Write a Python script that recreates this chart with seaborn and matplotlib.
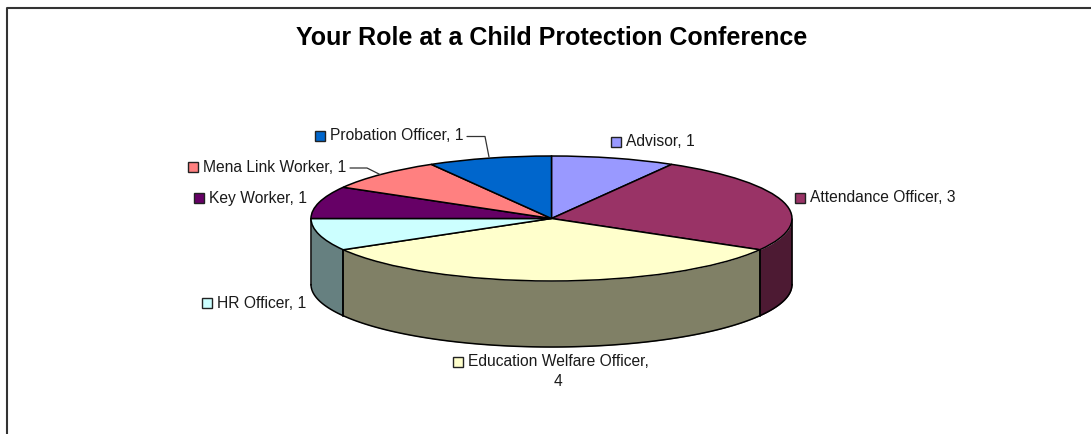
import numpy as np
import matplotlib
matplotlib.use("Agg")
import matplotlib.pyplot as plt
from matplotlib.patches import Wedge
from matplotlib.transforms import Affine2D
import seaborn as sns

roles = ["Advisor", "Attendance Officer", "Education Welfare Officer", "HR Officer",
         "Key Worker", "Mena Link Worker", "Probation Officer"]
counts = [1, 3, 4, 1, 1, 1, 1]
hex_colors = ["#9999FF", "#993366", "#FFFFCC", "#CCFFFF", "#660066", "#FF8080", "#0066CC"]
title_text = "Your Role at a Child Protection Conference"

sns.set_theme(style="white")
plt.rcParams["font.family"] = ["Liberation Sans", "DejaVu Sans"]
palette = sns.color_palette(hex_colors)
W, H = 1091, 434
fig = plt.figure(figsize=(W / 100, H / 100), dpi=100)
ax = fig.add_axes([0, 0, 1, 1])
CX, CY, RX, RY, DEPTH = 551.5, 218.5, 240.5, 62.5, 66
EDGE = "#000000"
INK = "#1a1a1a"
LEAD = "#333333"
FS = 11.25

# frame: only the top and left edges fall inside the picture
ax.plot([6.5, 6.5, W], [H, 7.5, 7.5], color="#333333", lw=1.5, clip_on=False)

# side wall, front half only
fractions = np.array(counts) / sum(counts)
ends = np.cumsum(fractions) * 2 * np.pi
starts = ends - fractions * 2 * np.pi
for s, e, c in zip(starts, ends, palette):
    lo, hi = max(s, np.pi / 2), min(e, 3 * np.pi / 2)
    if lo >= hi:
        continue
    th = np.linspace(lo, hi, 120)
    x = CX + RX * np.sin(th)
    top = CY - RY * np.cos(th)
    dark = tuple(v * 0.5 for v in c)
    ax.fill_between(x, top, top + DEPTH, color=dark, lw=0, zorder=2)
    ax.plot(x, top + DEPTH, color=EDGE, lw=1.1, zorder=3)
    for t in (lo, hi):
        px = CX + RX * np.sin(t)
        py = CY - RY * np.cos(t)
        ax.plot([px, px], [py, py + DEPTH], color=EDGE, lw=1.1, zorder=3)

# top face: the library's pie, squashed into an ellipse (y axis runs downward)
ax.pie(counts, colors=palette, startangle=90, counterclock=False, center=(CX, CY),
       radius=1, frame=True, wedgeprops=dict(edgecolor=EDGE, linewidth=1.1, zorder=4))
for w in ax.patches:
    if isinstance(w, Wedge):
        w.set_transform(Affine2D().translate(-CX, -CY).scale(RX, -RY).translate(CX, CY) + ax.transData)
ax.set_xlim(0, W)
ax.set_ylim(H, 0)
ax.set_aspect("auto")
ax.set_xticks([])
ax.set_yticks([])
sns.despine(ax=ax, left=True, bottom=True, top=True, right=True)

ax.text(552, 38, title_text, ha="center", va="center", fontsize=18, fontweight="bold", color="black")

# data labels: swatch left x, text left x, centre y, role index
label_spots = [
    (611, 625.5, 142, 0), (795, 810.5, 198, 1), (452.5, 468, 362, 2),
    (202, 217, 303, 3), (194, 209, 198, 4), (187.5, 203, 167, 5), (315, 330, 136, 6),
]
for sx, tx, ty, i in label_spots:
    ax.add_patch(plt.Rectangle((sx, ty - 5), 10, 10, fc=palette[i], ec="#222222", lw=1.0, zorder=5))
    text = f"{roles[i]}, {counts[i]}"
    if i == 2:
        text = f"{roles[i]},"
        ax.text(558, 382, str(counts[i]), ha="center", va="center", fontsize=FS, color=INK)
    ax.text(tx, ty, text, ha="left", va="center", fontsize=FS, color=INK)

# leader lines
ax.plot([467, 485, 489], [136.5, 136.5, 157], color=LEAD, lw=0.9, zorder=5)
ax.plot([350, 367, 380], [168, 168, 174.5], color=LEAD, lw=0.9, zorder=5)

fig.savefig("out.png", dpi=100)
